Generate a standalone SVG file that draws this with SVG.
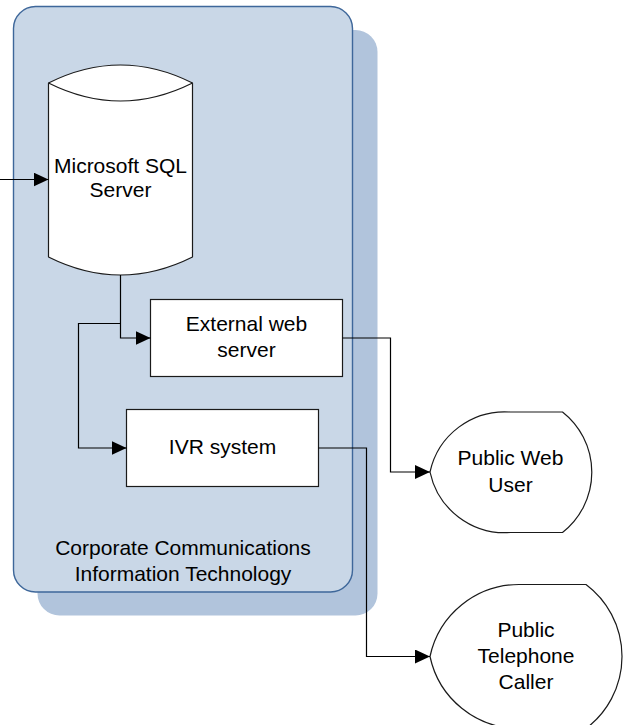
<svg xmlns="http://www.w3.org/2000/svg" width="631" height="725" viewBox="0 0 631 725">
<style>
text{font-family:"Liberation Sans",Arial,sans-serif;font-size:21px;fill:#000;text-anchor:middle}
.node{fill:#fff;stroke:#1a1a1a;stroke-width:1.2}
.conn{fill:none;stroke:#000;stroke-width:1.2}
</style>
<defs>
<marker id="arr" markerWidth="15" markerHeight="14" refX="15" refY="7" orient="auto" markerUnits="userSpaceOnUse">
<path d="M0,0 L15,7 L0,14 Z" fill="#000"/>
</marker>
</defs>
<g id="container">
<rect x="37.5" y="30" width="340" height="585.5" rx="22" fill="#B1C4DC"/>
<rect x="13.5" y="6.5" width="339" height="585.5" rx="22" fill="#C9D7E7" stroke="#3E679A" stroke-width="1.4"/>
<text x="183" y="555">Corporate Communications</text>
<text x="183" y="581">Information Technology</text>
</g>
<g id="sql">
<path class="node" d="M48.5,83 Q120.5,47 192.5,83 V257 Q120.5,293 48.5,257 Z"/>
<path class="node" fill="none" d="M48.5,83 Q120.5,119 192.5,83"/>
<text x="120.5" y="173">Microsoft SQL</text>
<text x="120.5" y="197">Server</text>
</g>
<g id="webserver">
<rect class="node" x="150.5" y="299.5" width="192" height="77"/>
<text x="246.5" y="331">External web</text>
<text x="246.5" y="357">server</text>
</g>
<g id="ivr">
<rect class="node" x="126.5" y="409.5" width="192" height="77"/>
<text x="222.5" y="454">IVR system</text>
</g>
<g id="webuser">
<path class="node" d="M430,472 A76.5,76.5 0 0 1 510,412 H562.5 A76.6,76.6 0 0 1 562.5,532.5 H510 A76.5,76.5 0 0 1 430,472 Z"/>
<text x="510.5" y="465">Public Web</text>
<text x="510.5" y="492">User</text>
</g>
<g id="caller">
<path class="node" d="M430,656.5 A91,91 0 0 1 519,584.5 H586 A90,90 0 0 1 586,728.5 H519 A91,91 0 0 1 430,656.5 Z"/>
<text x="526" y="637">Public</text>
<text x="526" y="663">Telephone</text>
<text x="526" y="689">Caller</text>
</g>
<g id="connectors">
<path class="conn" d="M0,179.5 H48.5" marker-end="url(#arr)"/>
<path class="conn" d="M120.5,275 V338 H150.5" marker-end="url(#arr)"/>
<path class="conn" d="M120.5,323.5 H78.5 V448 H126.5" marker-end="url(#arr)"/>
<path class="conn" d="M342.5,338 H390.5 V472 H430" marker-end="url(#arr)"/>
<path class="conn" d="M318.5,448 H366.5 V656.5 H430" marker-end="url(#arr)"/>
</g>
</svg>
